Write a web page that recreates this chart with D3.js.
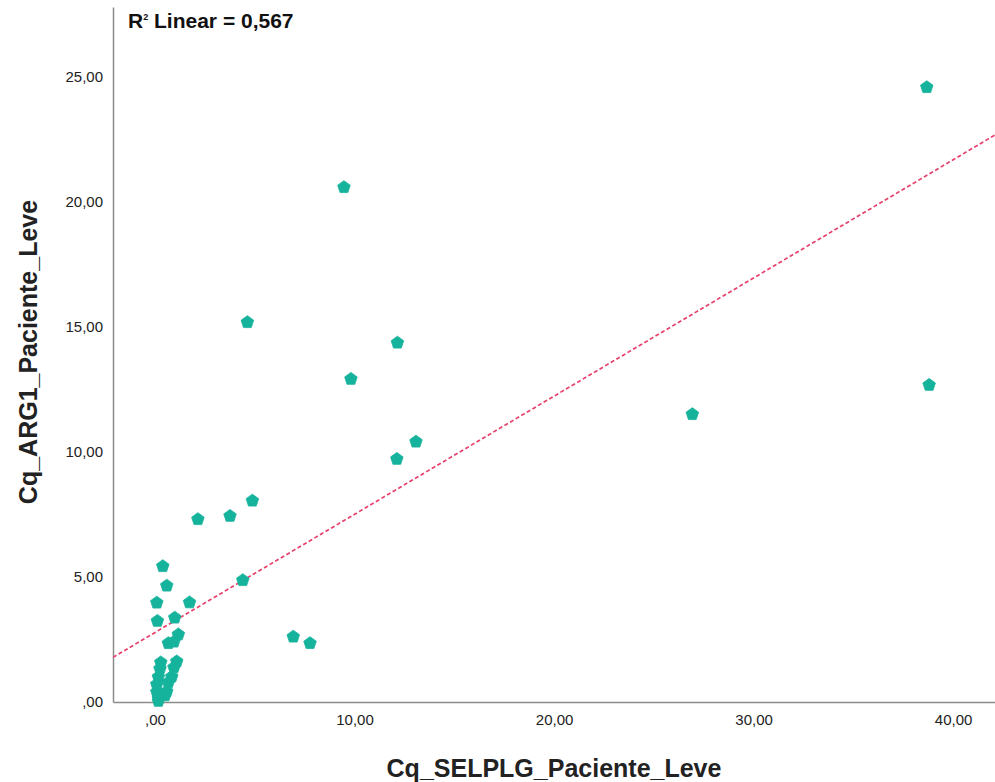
<!DOCTYPE html>
<html>
<head>
<meta charset="utf-8">
<script src="https://cdn.jsdelivr.net/npm/d3@7"></script>
<style>
  body { margin: 0; background: #fff; }
  text { font-family: "Liberation Sans", Arial, sans-serif; }
</style>
</head>
<body>
<div id="chartContainer"></div>
<script>
// values (x = Cq_SELPLG, y = Cq_ARG1)
const selplg = [38.68, 9.47, 4.63, 12.15, 9.82, 38.80, 26.93, 13.08, 12.12, 4.88,
  2.15, 3.76, 0.39, 0.59, 4.40, 0.09, 1.73, 0.12, 0.99, 1.17,
  0.67, 0.95, 6.93, 7.77, 0.29, 1.09, 0.25, 0.95, 0.17, 0.84,
  0.09, 0.67, 0.09, 0.59, 0.17, 0.50, 0.17]
const arg1 = [24.59, 20.59, 15.19, 14.37, 12.92, 12.68, 11.51, 10.41, 9.72, 8.05,
  7.31, 7.44, 5.43, 4.65, 4.87, 3.97, 3.98, 3.24, 3.37, 2.70,
  2.35, 2.41, 2.61, 2.35, 1.58, 1.62, 1.33, 1.38, 1.00, 1.01,
  0.70, 0.78, 0.40, 0.42, 0.15, 0.26, 0.04]
const xTicks = [0, 10, 20, 30, 40]
const yTicks = [0, 5, 10, 15, 20, 25]
// fit line as drawn in the reference
const fitIntercept = 2.78
const fitSlope = 0.4727
const rSquared = '0,567'

const width = 995
const height = 782
const margin = { top: 7, right: 0, bottom: 80, left: 113 }

const svg = d3.select('#chartContainer').append('svg')
  .attr('width', width)
  .attr('height', height)

const x = d3.scaleLinear()
  .domain([-2.105, 42.1])
  .range([margin.left, width - margin.right])

const y = d3.scaleLinear()
  .domain([0, 27.8])
  .range([height - margin.bottom, margin.top])

// SPSS style labels: ,00 5,00 10,00
const fmt = function (d) {
  const s = d3.format('.2f')(d).replace('.', ',')
  return d === 0 ? s.replace(/^0/, '') : s
}

// axes (no tick marks, only labels)
const xAxis = svg.append('g')
  .attr('transform', 'translate(0,' + y(0) + ')')
  .call(d3.axisBottom(x).tickValues(xTicks).tickFormat(fmt).tickSize(0).tickPadding(12))
xAxis.select('.domain').attr('stroke', '#8c8c8c').attr('stroke-width', 1.5)
xAxis.selectAll('text').attr('font-size', 15).attr('fill', '#222')
  .attr('font-family', '"Liberation Sans", Arial, sans-serif')

const yAxis = svg.append('g')
  .attr('transform', 'translate(' + margin.left + ',0)')
  .call(d3.axisLeft(y).tickValues(yTicks).tickFormat(fmt).tickSize(0).tickPadding(10))
yAxis.select('.domain').attr('stroke', '#8c8c8c').attr('stroke-width', 1.5)
yAxis.selectAll('text').attr('font-size', 15).attr('fill', '#222')
  .attr('font-family', '"Liberation Sans", Arial, sans-serif')

// fit line, clipped to the plot
svg.append('clipPath').attr('id', 'plotClip')
  .append('rect')
  .attr('x', margin.left).attr('y', margin.top)
  .attr('width', width - margin.left - margin.right)
  .attr('height', y(0) - margin.top)

const xd = x.domain()
svg.append('line')
  .attr('clip-path', 'url(#plotClip)')
  .attr('x1', x(xd[0])).attr('y1', y(fitIntercept + fitSlope * xd[0]))
  .attr('x2', x(xd[1])).attr('y2', y(fitIntercept + fitSlope * xd[1]))
  .attr('stroke', '#e8406c')
  .attr('stroke-width', 1.7)
  .attr('stroke-dasharray', '4,2.5')

// pentagon marker
const pentagon = {
  draw: function (context, size) {
    const r = Math.sqrt(size / 2.378)
    for (let i = 0; i < 5; i++) {
      const a = -Math.PI / 2 + i * 2 * Math.PI / 5
      const px = r * Math.cos(a)
      const py = r * Math.sin(a)
      if (i === 0) context.moveTo(px, py)
      else context.lineTo(px, py)
    }
    context.closePath()
  }
}
const sym = d3.symbol().type(pentagon).size(2.378 * 6.6 * 6.6)

svg.append('g').selectAll('path')
  .data(d3.range(selplg.length))
  .enter()
  .append('path')
  .attr('d', sym)
  .attr('transform', i => 'translate(' + x(selplg[i]) + ',' + y(arg1[i]) + ')')
  .attr('fill', '#16b39c')
  .attr('stroke', '#16b39c')
  .attr('stroke-width', 0.8)

// titles
svg.append('text')
  .attr('x', (margin.left + width) / 2)
  .attr('y', 777)
  .attr('text-anchor', 'middle')
  .attr('font-size', 25)
  .attr('font-weight', 'bold')
  .attr('fill', '#222')
  .text('Cq_SELPLG_Paciente_Leve')

svg.append('text')
  .attr('transform', 'translate(37,' + 352 + ') rotate(-90)')
  .attr('text-anchor', 'middle')
  .attr('font-size', 25)
  .attr('font-weight', 'bold')
  .attr('fill', '#222')
  .text('Cq_ARG1_Paciente_Leve')

const r2 = svg.append('text')
  .attr('x', 128)
  .attr('y', 28)
  .attr('font-size', 21)
  .attr('font-weight', 'bold')
  .attr('fill', '#111')
r2.append('tspan').text('R')
r2.append('tspan').attr('font-size', 9).attr('dy', -8).text('2')
r2.append('tspan').attr('dy', 8).text(' Linear = ' + rSquared)
</script>
</body>
</html>
